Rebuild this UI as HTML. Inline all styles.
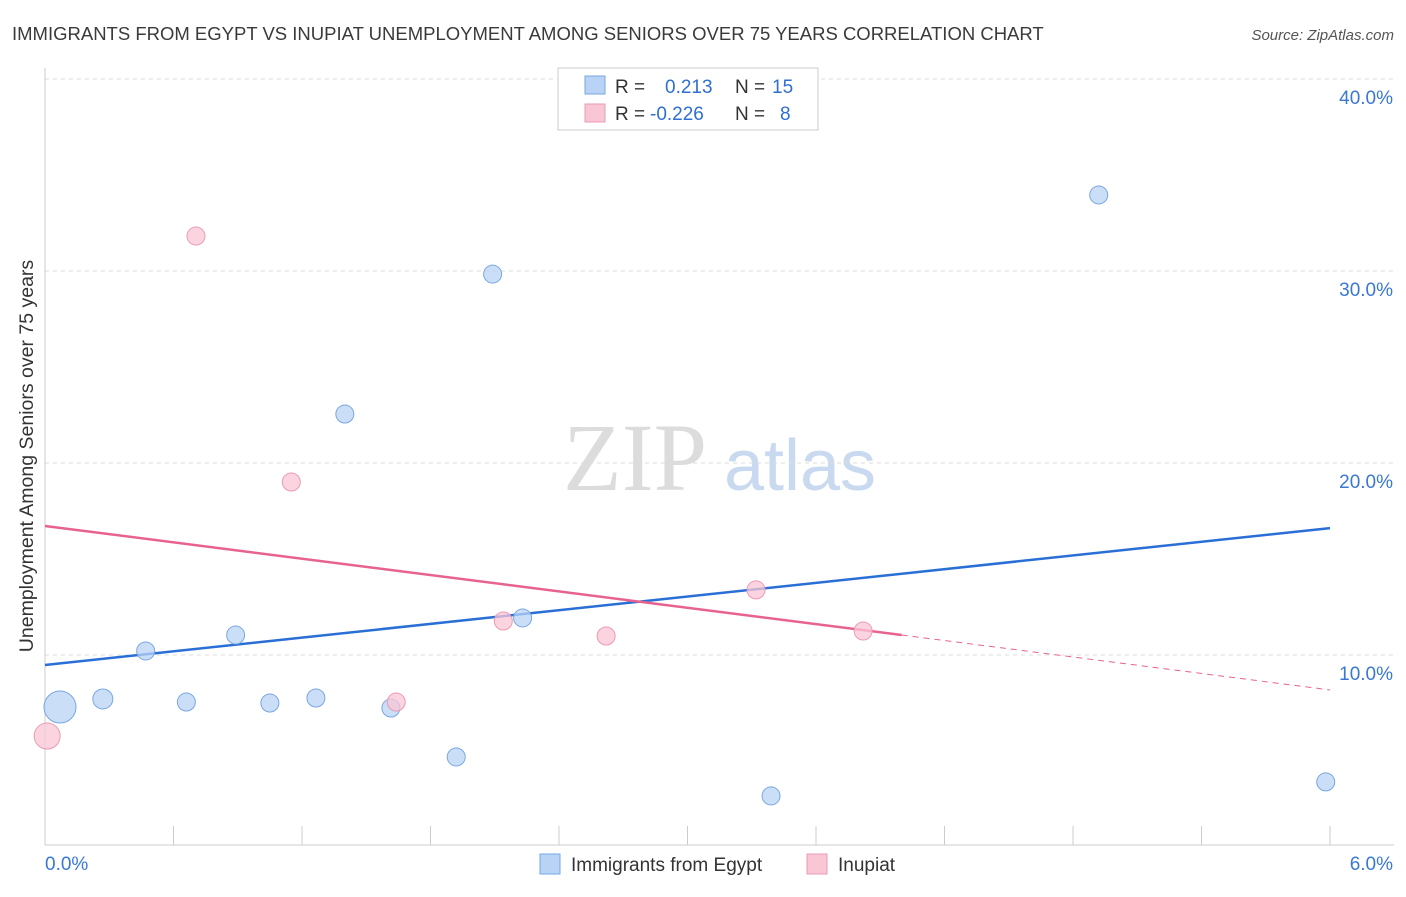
<!DOCTYPE html>
<html><head><meta charset="utf-8"><style>
body{margin:0;background:#fff;font-family:"Liberation Sans",sans-serif;}
</style></head><body>
<svg id="c" width="1406" height="892" xmlns="http://www.w3.org/2000/svg">
<text x="12" y="40" font-size="18.5" fill="#3a3a3a">IMMIGRANTS FROM EGYPT VS INUPIAT UNEMPLOYMENT AMONG SENIORS OVER 75 YEARS CORRELATION CHART</text>
<text x="1394" y="40" font-size="15" fill="#555" text-anchor="end" font-style="italic">Source: ZipAtlas.com</text>
<text x="33" y="456" font-size="19.5" fill="#333" text-anchor="middle" transform="rotate(-90 33 456)">Unemployment Among Seniors over 75 years</text>
<g>
<text x="635" y="490" font-size="96" fill="#dcdcdc" font-family="Liberation Serif,serif" text-anchor="middle">ZIP</text>
<text x="800" y="490" font-size="72" fill="#c9d9ef" text-anchor="middle">atlas</text>
</g>
<g id="grid"></g><g id="axes"></g><g id="trends"></g><g id="pts"></g>
<g>
<rect x="558" y="68" width="260" height="62" fill="#fff" stroke="#ccc"/>
<rect x="585" y="76" width="20" height="18" fill="#b8d3f5" stroke="#7aa7e0"/>
<text x="615" y="93" font-size="19" fill="#333">R =</text>
<text x="665" y="93" font-size="19" fill="#2f6fd1">0.213</text>
<text x="735" y="93" font-size="19" fill="#333">N =</text>
<text x="772" y="93" font-size="19" fill="#2f6fd1">15</text>
<rect x="585" y="104" width="20" height="18" fill="#f9c6d5" stroke="#ec9ab3"/>
<text x="615" y="120" font-size="19" fill="#333">R =</text>
<text x="650" y="120" font-size="19" fill="#2f6fd1">-0.226</text>
<text x="735" y="120" font-size="19" fill="#333">N =</text>
<text x="780" y="120" font-size="19" fill="#2f6fd1">8</text>
</g>
<g>
<rect x="540" y="854" width="20" height="20" fill="#b8d3f5" stroke="#7aa7e0"/>
<text x="571" y="871" font-size="19" fill="#333">Immigrants from Egypt</text>
<rect x="807" y="854" width="20" height="20" fill="#f9c6d5" stroke="#ec9ab3"/>
<text x="838" y="871" font-size="19" fill="#333">Inupiat</text>
</g>
</svg>
<script>
const blueX=[0.07,0.27,0.47,0.66,0.89,1.05,1.265,1.40,1.615,1.92,2.09,2.23,3.39,4.92,5.98];
const blueY=[7.29,7.71,10.21,7.55,11.04,7.5,7.76,22.55,7.24,4.69,29.84,11.93,2.66,33.96,3.39];
const blueR=[16,10,9,9,9,9,9,9,9,9,9,9,9,9,9];
const pinkX=[0.01,0.705,1.15,1.64,2.14,2.62,3.32,3.82];
const pinkY=[5.78,31.82,19.01,7.55,11.77,10.99,13.39,11.25];
const pinkR=[13,9,9,9,9,9,9,9];
const blueTrend=[[0,9.48],[6,16.61]];
const pinkTrend=[[0,16.72],[4.0,11.04],[6,8.18]];
const yTicks=[10,20,30,40];
const yTickLabels=["10.0%","20.0%","30.0%","40.0%"];
const xEndLabels=["0.0%","6.0%"];
const NS="http://www.w3.org/2000/svg";
const sx=v=>45+v*214.17, sy=v=>847-v*19.2;
function mk(t,a,p){const e=document.createElementNS(NS,t);for(const k in a)e.setAttribute(k,a[k]);document.getElementById(p).appendChild(e);return e;}
yTicks.forEach((t,i)=>{
 const l=mk('line',{x1:45,x2:1394,y1:sy(t),y2:sy(t),stroke:'#ddd','stroke-dasharray':'4 4'},'grid');
 
 
 const tx=mk('text',{x:1393,y:sy(t)+25,'font-size':19,fill:'#3a78d4','text-anchor':'end'},'grid');
 tx.textContent=yTickLabels[i];
 
 
});
let a=mk('line',{x1:45,x2:45,y1:68,y2:845,stroke:'#ccc'},'axes');


a=mk('line',{x1:45,x2:1394,y1:845,y2:845,stroke:'#ccc'},'axes');


for(let i=0;i<=10;i++){
 const t=mk('line',{x1:sx(i*0.6),x2:sx(i*0.6),y1:826,y2:845,stroke:'#ccc'},'axes');
 
 
}
[[0,45,'start'],[1,1393,'end']].forEach(([i,x,an])=>{
 const t=mk('text',{x:x,y:870,'font-size':19,fill:'#3a78d4','text-anchor':an},'axes');
 t.textContent=xEndLabels[i];
 
 
});
let tl=mk('line',{x1:sx(blueTrend[0][0]),y1:sy(blueTrend[0][1]),x2:sx(blueTrend[1][0]),y2:sy(blueTrend[1][1]),stroke:'#2a6fd6','stroke-width':2.5},'trends');


tl=mk('line',{x1:sx(pinkTrend[0][0]),y1:sy(pinkTrend[0][1]),x2:sx(pinkTrend[1][0]),y2:sy(pinkTrend[1][1]),stroke:'#e8628f','stroke-width':2.5},'trends');


tl=mk('line',{x1:sx(pinkTrend[1][0]),y1:sy(pinkTrend[1][1]),x2:sx(pinkTrend[2][0]),y2:sy(pinkTrend[2][1]),stroke:'#e8628f','stroke-width':1,'stroke-dasharray':'6 5'},'trends');


blueX.forEach((x,i)=>{
 const c=mk('circle',{cx:sx(x),cy:sy(blueY[i]),r:blueR[i],fill:'#b8d3f5','fill-opacity':0.75,stroke:'#7aa7e0'},'pts');
 
 
});
pinkX.forEach((x,i)=>{
 const c=mk('circle',{cx:sx(x),cy:sy(pinkY[i]),r:pinkR[i],fill:'#f9c6d5','fill-opacity':0.75,stroke:'#ec9ab3'},'pts');
 
 
});
</script>
</body></html>
